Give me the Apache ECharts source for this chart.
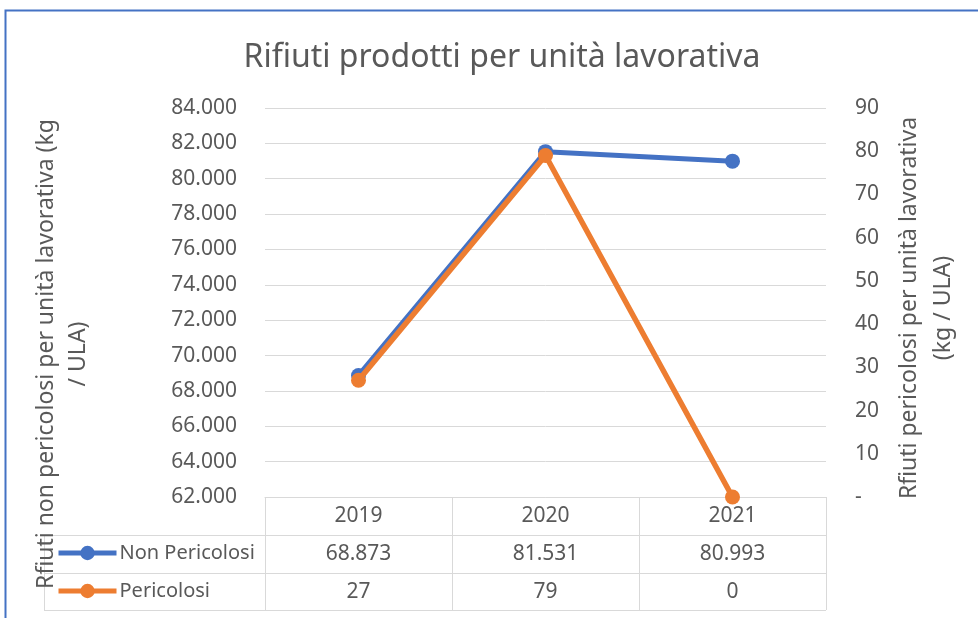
<!DOCTYPE html>
<html>
<head>
<meta charset="utf-8">
<script src="https://cdn.jsdelivr.net/npm/echarts@6/dist/echarts.min.js"></script>
<style>
  html, body { margin: 0; padding: 0; background: #fff; }
  #chart { width: 978px; height: 618px; }
</style>
</head>
<body>
<div id="chart"></div>
<script>
// dati
const years = ['2019', '2020', '2021'];
const nonPericolosi = [68873, 81531, 80993];
const pericolosi = [27, 79, 0];
const leftTicks = { min: 62000, max: 84000, step: 2000 };
const rightTicks = { min: 0, max: 90, step: 10 };

const FONT = 'Noto Sans';
const GREY = '#595959';
const LINE = '#d9d9d9';

// separatore migliaia con il punto
const fmt = n => String(n).replace(/\B(?=(\d{3})+(?!\d))/g, '.');

const chart = echarts.init(document.getElementById('chart'));

const legendBase = {
    left: 56, padding: 0,
    itemWidth: 58, itemHeight: 18, itemGap: 4,
    lineStyle: { width: 5 },
    textStyle: { fontFamily: FONT, fontSize: 20, color: GREY, padding: [0, 0, 0, -2] }
};

const option = {
    animation: false,
    textStyle: { fontFamily: FONT, color: GREY },
    title: {
        text: 'Rifiuti prodotti per unità lavorativa',
        left: 497,
        textAlign: 'center',
        top: 37,
        textStyle: { fontFamily: FONT, fontSize: 32, fontWeight: 'normal', color: GREY }
    },
    legend: [
        Object.assign({ data: ['Non Pericolosi'], top: 543 }, legendBase),
        Object.assign({ data: ['Pericolosi'], top: 581 }, legendBase)
    ],
    grid: { left: 265, right: 152, top: 108, bottom: 121, containLabel: false },
    xAxis: {
        type: 'category',
        data: years,
        boundaryGap: true,
        axisLine: { lineStyle: { color: LINE, width: 1 } },
        axisTick: { show: true, length: 113, interval: 0, lineStyle: { color: LINE } },
        axisLabel: {
            interval: 0,
            margin: 0,
            fontFamily: FONT,
            fontSize: 21,
            color: GREY,
            lineHeight: 38,
            formatter: (v, i) => v + '\n' + fmt(nonPericolosi[i]) + '\n' + pericolosi[i]
        }
    },
    yAxis: [
        {
            type: 'value',
            min: leftTicks.min, max: leftTicks.max, interval: leftTicks.step,
            axisLine: { show: false },
            axisTick: { show: false },
            splitLine: { lineStyle: { color: LINE, width: 1 } },
            axisLabel: { fontFamily: FONT, fontSize: 21, color: GREY, margin: 28, formatter: v => fmt(v) }
        },
        {
            type: 'value',
            min: rightTicks.min, max: rightTicks.max, interval: rightTicks.step,
            axisLine: { show: false },
            axisTick: { show: false },
            splitLine: { show: false },
            axisLabel: {
                fontFamily: FONT, fontSize: 21, color: GREY, margin: 29,
                formatter: v => (v === 0 ? '-' : String(v))
            }
        }
    ],
    series: [
        {
            name: 'Non Pericolosi',
            type: 'line',
            yAxisIndex: 0,
            data: nonPericolosi,
            symbol: 'circle',
            symbolSize: 15,
            itemStyle: { color: '#4472C4' },
            lineStyle: { color: '#4472C4', width: 5 },
            z: 2
        },
        {
            name: 'Pericolosi',
            type: 'line',
            yAxisIndex: 1,
            data: pericolosi,
            symbol: 'circle',
            symbolSize: 15,
            itemStyle: { color: '#ED7D31' },
            lineStyle: { color: '#ED7D31', width: 5.5 },
            z: 3
        }
    ],
    graphic: [
        // cornice
        {
            type: 'rect', silent: true, z: -1,
            shape: { x: 5.5, y: 10.5, width: 1100, height: 800 },
            style: { fill: 'none', stroke: '#4472C4', lineWidth: 2 }
        },
        // righe della tabella dati
        { type: 'line', silent: true, shape: { x1: 44, y1: 535.5, x2: 826, y2: 535.5 }, style: { stroke: LINE, lineWidth: 1 } },
        { type: 'line', silent: true, shape: { x1: 44, y1: 573.5, x2: 826, y2: 573.5 }, style: { stroke: LINE, lineWidth: 1 } },
        { type: 'line', silent: true, shape: { x1: 44, y1: 610.5, x2: 826, y2: 610.5 }, style: { stroke: LINE, lineWidth: 1 } },
        { type: 'line', silent: true, shape: { x1: 44.5, y1: 535, x2: 44.5, y2: 611 }, style: { stroke: LINE, lineWidth: 1 } },
        // titoli degli assi
        {
            type: 'text', silent: true, x: 62, y: 354, rotation: Math.PI / 2,
            style: {
                text: 'Rfiuti non pericolosi per unità lavorativa (kg\n/ ULA)',
                fontFamily: FONT, fontSize: 23, fill: GREY, lineHeight: 32,
                align: 'center', verticalAlign: 'middle'
            }
        },
        {
            type: 'text', silent: true, x: 926, y: 308, rotation: Math.PI / 2,
            style: {
                text: 'Rfiuti pericolosi per unità lavorativa\n(kg / ULA)',
                fontFamily: FONT, fontSize: 23, fill: GREY, lineHeight: 34,
                align: 'center', verticalAlign: 'middle'
            }
        }
    ]
};

chart.setOption(option);
</script>
</body>
</html>
